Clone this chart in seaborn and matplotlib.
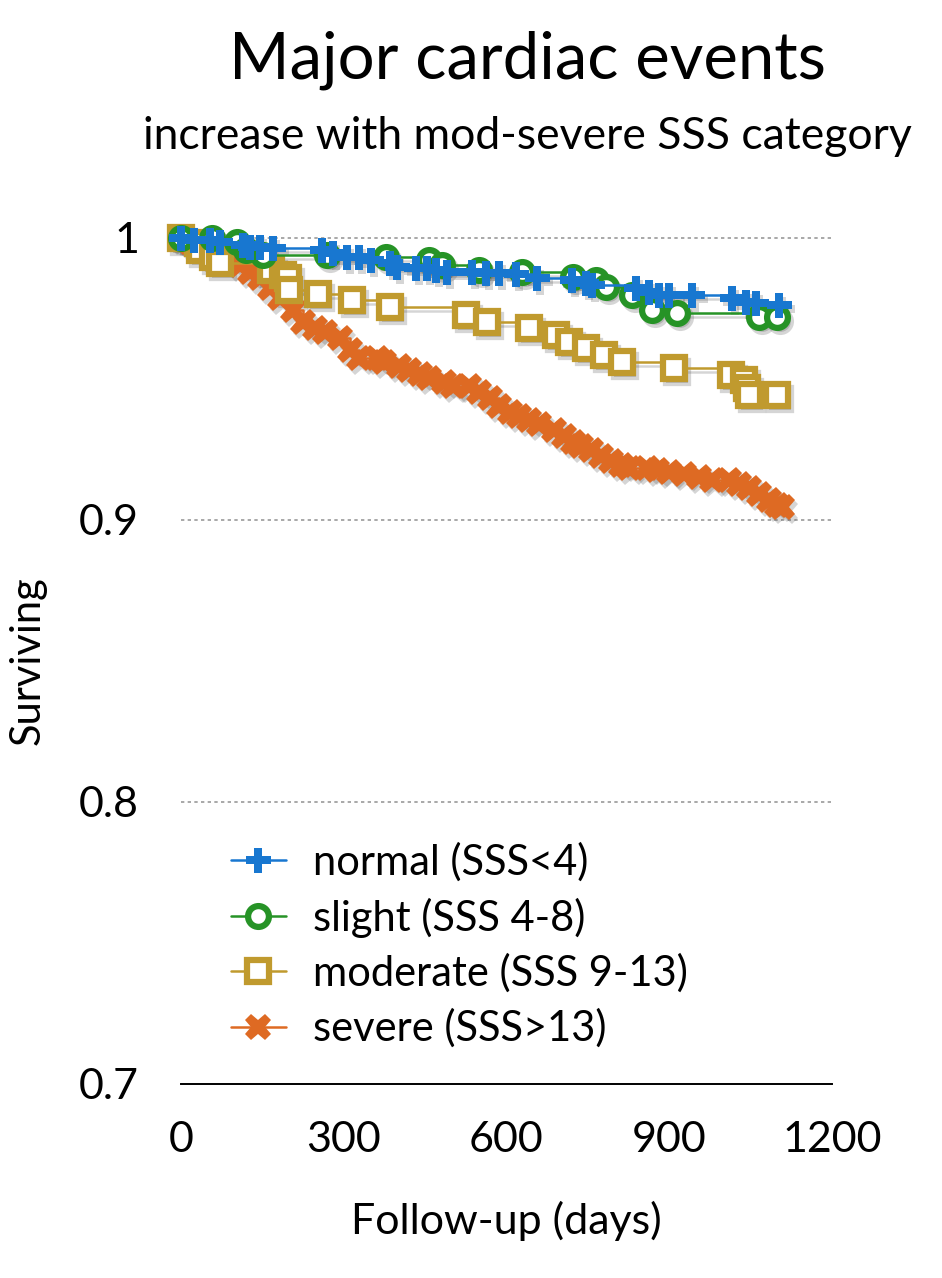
import matplotlib
matplotlib.use("Agg")
import matplotlib.pyplot as plt
import matplotlib.transforms as mtransforms
import seaborn as sns

# Kaplan-Meier style curves
normal_days = [0, 25, 53, 72, 114, 127, 145, 169, 261, 280, 306, 329, 350, 385, 398, 434, 453,
               471, 490, 537, 563, 587, 618, 657, 721, 747, 758, 839, 863, 882, 900, 942,
               1016, 1042, 1060, 1102]
normal_surv = [1.0, 0.9993, 0.9993, 0.9986, 0.9975, 0.9968, 0.9968, 0.9965, 0.9957, 0.9947,
               0.9933, 0.9933, 0.9922, 0.9911, 0.9897, 0.9894, 0.9894, 0.9887, 0.9879, 0.9879,
               0.9876, 0.9876, 0.9872, 0.9858, 0.9851, 0.984, 0.9833, 0.9823, 0.9809, 0.9798,
               0.9798, 0.9798, 0.9787, 0.9773, 0.977, 0.9762]

slight_days = [0, 57, 103, 121, 151, 269, 379, 458, 482, 550, 628, 722, 766, 784, 832, 869,
               915, 1066, 1099]
slight_surv = [1.0, 1.0, 0.9986, 0.9957, 0.994, 0.994, 0.9933, 0.9922, 0.9904, 0.9886,
               0.9879, 0.9862, 0.9851, 0.9826, 0.9798, 0.9745, 0.9734, 0.972, 0.972]

moderate_days = [0, 31, 35, 59, 72, 167, 188, 197, 200, 252, 315, 385, 526, 565, 642, 692,
                 716, 747, 780, 814, 909, 1014, 1038, 1044, 1048, 1099]
moderate_surv = [1.0, 0.9982, 0.9957, 0.9933, 0.9911, 0.9887, 0.9869, 0.9858, 0.9816, 0.9801,
                 0.978, 0.9755, 0.9727, 0.9702, 0.968, 0.9656, 0.9631, 0.961, 0.9585, 0.956,
                 0.9539, 0.9514, 0.9496, 0.9468, 0.9443, 0.9443]

severe_days = [0, 17, 35, 53, 72, 90, 109, 127, 145, 164, 182, 206, 225, 247, 265, 293, 311,
               329, 361, 375, 403, 421, 440, 458, 486, 501, 532, 550, 569, 587, 606, 624, 642,
               661, 688, 707, 722, 738, 756, 775, 793, 812, 826, 860, 878, 900, 928, 955, 979,
               1010, 1029, 1047, 1066, 1084, 1099, 1108]
severe_surv = [1.0, 0.9986, 0.9972, 0.9957, 0.9943, 0.9929, 0.9904, 0.9879, 0.9858, 0.9823,
               0.9787, 0.9745, 0.9702, 0.9681, 0.9667, 0.9645, 0.9603, 0.9574, 0.9574, 0.956,
               0.9546, 0.9532, 0.9518, 0.9504, 0.9489, 0.9475, 0.9475, 0.9454, 0.9433, 0.9404,
               0.9383, 0.9369, 0.9355, 0.934, 0.9319, 0.9298, 0.9277, 0.9262, 0.9248, 0.9227,
               0.9209, 0.9195, 0.9184, 0.9184, 0.9177, 0.917, 0.9163, 0.9152, 0.9142, 0.9142,
               0.9128, 0.9113, 0.9092, 0.9071, 0.9053, 0.9046]

labels = ["normal (SSS<4)", "slight (SSS 4-8)", "moderate (SSS 9-13)", "severe (SSS>13)"]
y_ticks = [0.7, 0.8, 0.9, 1.0]
y_ticklabels = ["0.7", "0.8", "0.9", "1"]
x_ticks = [0, 300, 600, 900, 1200]

sns.set_style("white")
plt.rcParams["font.family"] = ["Lato", "DejaVu Sans"]
plt.rcParams["text.color"] = "black"
plt.rcParams["axes.labelcolor"] = "black"
plt.rcParams["xtick.color"] = "black"
plt.rcParams["ytick.color"] = "black"

fig = plt.figure(figsize=(9.42, 12.78), dpi=100)
ax = fig.add_axes([0.192, 0.1518, 0.691, 0.662])

series = [
    (severe_days, severe_surv, labels[3], "#de6a23", dict(marker="X", markersize=19,
                                                        markeredgewidth=0)),
    (moderate_days, moderate_surv, labels[2], "#c09a2e", dict(marker="s", markersize=16,
                                                            markeredgewidth=4.5)),
    (slight_days, slight_surv, labels[1], "#269326", dict(marker="o", markersize=15,
                                                        markeredgewidth=4.5)),
    (normal_days, normal_surv, labels[0], "#1877d0", dict(marker="P", markersize=18,
                                                        markeredgewidth=0)),
]

# soft drop shadow, shifted a few pixels down-right
shadow = ax.transData + mtransforms.ScaledTranslation(3 / 100, -4 / 100, fig.dpi_scale_trans)

for days, surv, lab, col, mk in series:
    sns.lineplot(x=days, y=surv, ax=ax, color="#444444", alpha=0.22, drawstyle="steps-post",
                 estimator=None, sort=False, linewidth=1.8, clip_on=False, zorder=2,
                 markeredgecolor="#444444", transform=shadow, legend=False, **mk)
    face = "white" if mk["marker"] in ("o", "s") else col
    sns.lineplot(x=days, y=surv, ax=ax, color=col, label=lab, drawstyle="steps-post",
                 estimator=None, sort=False, linewidth=1.8, clip_on=False, zorder=3,
                 markeredgecolor=col, markerfacecolor=face, **mk)

ax.set_xlim(0, 1200)
ax.set_ylim(0.7, 1.0)
ax.set_xticks(x_ticks)
ax.set_xticklabels([str(t) for t in x_ticks])
ax.set_yticks(y_ticks)
ax.set_yticklabels(y_ticklabels)
ax.tick_params(axis="x", labelsize=31, length=0, pad=27)
ax.tick_params(axis="y", labelsize=31, length=0, pad=30)
for y in y_ticks[1:]:
    ax.axhline(y, color="#999999", linestyle=(0, (2, 2)), linewidth=1.2, zorder=1,
               clip_on=False)

for s in ["top", "right", "left"]:
    ax.spines[s].set_visible(False)
ax.spines["bottom"].set_color("black")
ax.spines["bottom"].set_linewidth(1.4)

ax.set_xlabel("Follow-up (days)", fontsize=31, labelpad=30)
ax.set_ylabel("Surviving", fontsize=30)
ax.yaxis.set_label_coords(-0.206, 0.5)

handles, labs = ax.get_legend_handles_labels()
order = [labs.index(l) for l in labels]
ax.legend([handles[i] for i in order], [labs[i] for i in order], loc="upper left",
          bbox_to_anchor=(0.02, 0.33), frameon=False, fontsize=30, handlelength=1.3,
          handletextpad=0.65, labelspacing=0.38)

fig.text(0.56, 0.953, "Major cardiac events", ha="center", va="center", fontsize=47)
fig.text(0.56, 0.893, "increase with mod-severe SSS category", ha="center", va="center",
         fontsize=32)

fig.savefig("out.png", dpi=100, facecolor="white")
